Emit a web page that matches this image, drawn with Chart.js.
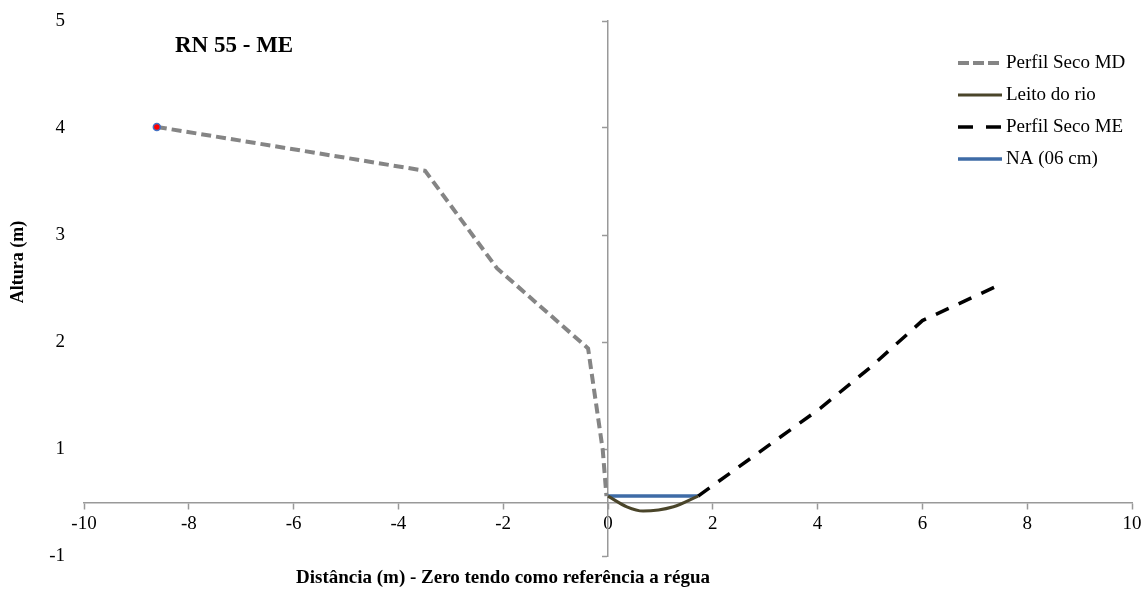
<!DOCTYPE html>
<html>
<head>
<meta charset="utf-8">
<script src="https://cdn.jsdelivr.net/npm/chart.js@4/dist/chart.umd.min.js"></script>
<style>
  html, body { margin: 0; padding: 0; background: #fff; }
  #wrap { width: 1145px; height: 592px; position: relative; }
</style>
</head>
<body>
<div id="wrap"><canvas id="chart"></canvas></div>
<script>
// Perfil RN 55 - ME
const chartTitle = 'RN 55 - ME';
const xTitle = 'Distância (m) - Zero tendo como referência a régua';
const yTitle = 'Altura (m)';

const yTickLabels = ['-1', '1', '2', '3', '4', '5'];

const mdX = [-8.61, -3.49, -2.12, -0.38, -0.1, -0.03];
const mdY = [4.01, 3.60, 2.69, 1.94, 0.99, 0.56];

const leitoX = [0, 0.36, 0.67, 1.25, 1.72];
const leitoY = [0.56, 0.46, 0.42, 0.46, 0.56];

const meX = [1.72, 4.05, 5.0, 6.0, 7.5];
const meY = [0.56, 1.38, 1.76, 2.2, 2.54];

const naX = [0, 1.72];
const naY = [0.56, 0.56];

const toPoints = (xs, ys) => xs.map((x, i) => ({ x: x, y: ys[i] }));

Chart.defaults.font.family = '"Liberation Serif", "Times New Roman", serif';
Chart.defaults.color = '#000';

// keep label overflow from pushing the plot area in
const noPad = (s) => { s.paddingTop = 0; s.paddingBottom = 0; s.paddingLeft = 0; s.paddingRight = 0; };

const decorPlugin = {
    id: 'decor',
    afterDraw(chart) {
        const ctx = chart.ctx;
        ctx.save();
        ctx.fillStyle = '#000';
        ctx.textBaseline = 'middle';

        ctx.font = 'bold 23px "Liberation Serif"';
        ctx.textAlign = 'left';
        ctx.fillText(chartTitle, 175, 46);

        ctx.font = 'bold 19px "Liberation Serif"';
        ctx.textAlign = 'center';
        ctx.fillText(xTitle, 503, 578);

        ctx.font = 'bold 18px "Liberation Serif"';
        ctx.save();
        ctx.translate(18, 262);
        ctx.rotate(-Math.PI / 2);
        ctx.fillText(yTitle, 0, 0);
        ctx.restore();

        // legend with line samples
        ctx.font = '19px "Liberation Serif"';
        ctx.textAlign = 'left';
        chart.data.datasets.forEach((ds, i) => {
            const y = 63 + i * 32;
            ctx.save();
            ctx.strokeStyle = ds.borderColor;
            ctx.lineWidth = ds.borderWidth;
            ctx.setLineDash(ds.legendDash || ds.borderDash || []);
            ctx.beginPath();
            ctx.moveTo(958, y);
            ctx.lineTo(1002, y);
            ctx.stroke();
            ctx.restore();
            ctx.fillText(ds.label, 1006, y);
        });
        ctx.restore();
    }
};

new Chart(document.getElementById('chart'), {
    type: 'line',
    data: {
        datasets: [{
            label: 'Perfil Seco MD',
            data: toPoints(mdX, mdY),
            borderColor: '#858585',
            borderWidth: 4,
            borderDash: [10, 5],
            legendDash: [11, 4],
            pointRadius: mdX.map((v, i) => i === 0 ? 3.5 : 0),
            pointBackgroundColor: '#ff0000',
            pointBorderColor: '#4472c4',
            pointBorderWidth: 1.5,
            tension: 0
        }, {
            label: 'Leito do rio',
            data: toPoints(leitoX, leitoY),
            borderColor: '#4a452a',
            borderWidth: 3,
            pointRadius: 0,
            cubicInterpolationMode: 'monotone'
        }, {
            label: 'Perfil Seco ME',
            data: toPoints(meX, meY),
            borderColor: '#000000',
            borderWidth: 3.5,
            borderDash: [14, 11],
            legendDash: [15, 13],
            pointRadius: 0,
            tension: 0
        }, {
            label: 'NA (06 cm)',
            data: toPoints(naX, naY),
            borderColor: '#3e6ba6',
            borderWidth: 3.5,
            pointRadius: 0
        }]
    },
    options: {
        responsive: true,
        maintainAspectRatio: false,
        animation: false,
        devicePixelRatio: 1,
        layout: { padding: { left: 0, right: 13, top: 21, bottom: 36 } },
        plugins: {
            legend: { display: false },
            title: { display: false },
            tooltip: { enabled: false }
        },
        scales: {
            x: {
                type: 'linear',
                min: -10,
                max: 10,
                position: { y: 0.5 },
                ticks: { stepSize: 2, font: { size: 19 }, color: '#000', padding: 4 },
                grid: { drawOnChartArea: false, tickLength: 6, tickColor: '#999', tickWidth: 1.5 },
                border: { color: '#999', width: 1.5 },
                afterFit: (s) => { noPad(s); s.height = 0; }
            },
            y: {
                type: 'linear',
                min: 0,
                max: 5,
                position: { x: 0 },
                ticks: { display: false, stepSize: 1 },
                grid: { drawOnChartArea: false, tickLength: 5, tickColor: '#999', tickWidth: 1.5 },
                border: { color: '#999', width: 1.5 },
                afterFit: (s) => { noPad(s); s.width = 0; }
            },
            yl: {
                type: 'linear',
                position: 'left',
                min: 0,
                max: 5,
                ticks: {
                    stepSize: 1,
                    padding: 19,
                    font: { size: 19 },
                    color: '#000',
                    callback: (v) => yTickLabels[v]
                },
                grid: { display: false, drawTicks: false },
                border: { display: false },
                afterFit: (s) => { noPad(s); s.width = 84; }
            }
        }
    },
    plugins: [decorPlugin]
});
</script>
</body>
</html>
